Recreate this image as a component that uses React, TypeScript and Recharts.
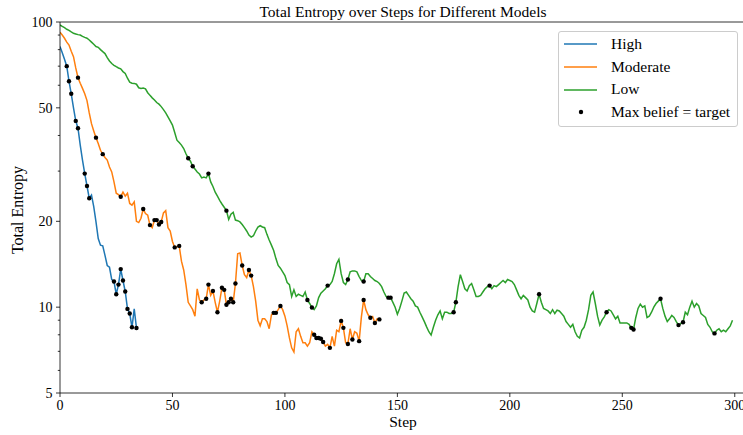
import { FC } from "react";
import {
  ComposedChart,
  Line,
  Scatter,
  XAxis,
  YAxis,
  ReferenceLine,
  Customized,
} from "recharts";

// entropy per step, index = step
const HIGH = [
  82, 78, 74, 70, 62, 56, 50, 45, 42.4, 37,
  32.8, 29.4, 26.6, 24.1, 24.7, 22.5, 19.9, 17.4, 16.5, 16.4,
  15.2, 14.0, 13.8, 12.5, 12.3, 11.1, 12.0, 13.6, 12.4, 11.35,
  9.86, 9.5, 8.5, 9.86, 8.45,
];

const MODERATE = [
  92, 90, 87.7, 85, 83, 79, 75.6, 69, 63.8, 61,
  58.5, 56, 53, 48, 44, 41.5, 39.3, 37.5, 35.5, 34.4,
  33.5, 32.8, 31, 29.8, 27.5, 25.1, 24.8, 24.4, 25.3, 24.5,
  25.1, 23.1, 22.8, 23.4, 20.0, 19.8, 20.5, 22.1, 21.3, 21.0,
  19.4, 19.0, 20.2, 20.2, 19.5, 19.9, 21.4, 21.8, 19.0, 18.5,
  17.0, 16.2, 16.3, 16.4, 14.5, 13.5, 12.0, 10.4, 10.1, 9.8,
  9.3, 11.6, 10.6, 10.4, 10.6, 10.7, 12.0, 11.0, 11.4, 10.4,
  9.6, 10.5, 11.7, 11.5, 10.2, 10.4, 10.7, 10.4, 12.1, 15.4,
  15.5, 14.0, 13.0, 12.7, 13.5, 12.9, 11.8, 10.5, 9.0, 8.6,
  9.1, 9.1, 8.9, 8.4, 9.4, 9.55, 9.55, 9.8, 10.1, 9.8,
  9.3, 8.6, 7.8, 7.2, 6.96, 8.2, 8.4, 7.9, 7.5, 7.5,
  7.3, 7.5, 8.2, 8.0, 7.8, 7.8, 7.75, 7.55, 7.3, 7.4,
  7.2, 7.9, 7.3, 8.3, 8.2, 8.95, 8.46, 7.5, 7.43, 8.4,
  7.7, 8.2, 8.1, 7.6, 9.25, 10.6, 9.8, 9.4, 9.18, 9.27,
  8.8, 9.1, 9.06,
];

const LOW = [
  97.6, 96.5, 95.5, 94.3, 93.5, 92.3, 91.3, 90.8, 90.3, 90,
  89, 88.3, 87.7, 86.5, 85, 83.5, 82, 81.5, 80, 78.7,
  77.5, 75, 73, 71.5, 70.5, 69.7, 69, 68.5, 67, 66,
  63.5, 61.5, 61, 60.9, 60.5, 58.8, 58.5, 58.7, 58.3, 56.5,
  55.3, 54.2, 53.3, 52.2, 51.5, 50.5, 49.3, 48, 46.5, 45,
  43.5, 41, 38.5, 37.8, 37, 36, 34.5, 33.3, 32.5, 31.2,
  30.5, 29.8, 29.3, 28.4, 28.6, 28.4, 29.4, 27.5, 26.5, 25.3,
  24.5, 23.7, 23, 22.4, 21.8, 20.3, 21.2, 21.5, 20.2, 20.1,
  19.9, 19.5, 19, 18.5, 17.9, 17.6, 17.8, 18.5, 19.1, 19.3,
  19.1, 19.0, 18, 17.2, 16.5, 15.8, 14.8, 14.0, 13.7, 13.3,
  12.9, 12.2, 12.0, 10.9, 11.5, 10.9, 11.1, 11.0, 10.9, 11.3,
  10.6, 10.3, 9.97, 9.8, 10.1, 10.8, 11.2, 11.4, 11.6, 11.9,
  12.0, 12.3, 13.1, 14.2, 14.7, 13.1, 12.2, 12.0, 12.5, 13.3,
  13.4, 13.4, 13.3, 12.8, 12.4, 12.3, 13.1, 13.1, 12.8, 12.6,
  12.4, 12.3, 12.1, 11.8, 11.3, 10.9, 10.8, 10.8, 10.4, 10.0,
  9.45, 9.9, 10.5, 11.2, 11.3, 11.0, 10.7, 10.5, 10.1, 10.0,
  9.6, 9.25, 8.9, 8.53, 8.2, 7.98, 8.5, 9.0, 9.4, 9.7,
  9.1, 9.6, 9.6, 9.5, 9.5, 9.6, 10.4, 11.8, 13.0, 12.3,
  11.6, 11.4, 11.9, 12.1, 11.5, 10.9, 10.9, 11.0, 11.3, 11.6,
  11.8, 11.9, 11.6, 11.9, 11.8, 12.0, 12.2, 12.4, 12.2, 12.5,
  12.4, 12.3, 12.0, 11.5, 11.0, 10.7, 11.0, 10.8, 10.6, 10.0,
  9.7, 9.6, 10.3, 11.1, 10.4, 9.9, 9.8, 9.7, 9.5, 9.8,
  9.5, 9.76, 9.7, 9.5, 9.3, 8.9, 8.7, 8.5, 8.7, 8.2,
  7.9, 7.8, 8.3, 8.5, 9.0, 9.8, 11.0, 11.3, 10.3, 9.3,
  8.65, 9.0, 9.25, 9.6, 9.8, 9.7, 9.4, 9.1, 9.3, 8.8,
  8.8, 8.8, 8.8, 8.7, 8.46, 8.35, 9.2, 9.9, 10.25, 10.0,
  10.1, 9.2, 9.3, 9.6, 10.0, 10.3, 10.5, 10.7, 9.9, 9.3,
  8.9, 9.1, 9.35, 9.2, 8.9, 8.65, 8.75, 8.85, 9.6, 9.4,
  10.0, 10.5, 10.0, 10.3, 10.1, 9.5, 9.35, 9.2, 8.7, 8.5,
  8.2, 8.09, 8.3, 8.4, 8.2, 8.3, 8.2, 8.4, 8.6, 9.0,
];

// steps where max belief == target
const HIGH_HITS = [3, 4, 5, 7, 8, 11, 12, 13, 24, 25, 26, 27, 28, 29, 30, 31, 32, 34];
const MODERATE_HITS = [
  8, 16, 19, 27, 37, 40, 42, 43, 44, 45, 51, 53, 63, 65, 66, 68, 70, 72, 73, 74,
  75, 76, 77, 78, 81, 84, 85, 95, 96, 98, 113, 114, 115, 116, 117, 120, 125, 126,
  128, 130, 133, 135, 138, 140, 142,
];
const LOW_HITS = [
  57, 59, 66, 74, 110, 112, 119, 128, 135, 146, 147, 175, 176, 191, 213, 243, 254,
  255, 267, 275, 277, 291,
];

const X_TICKS = [0, 50, 100, 150, 200, 250, 300];
const Y_TICKS = [5, 6, 7, 8, 9, 10, 20, 30, 40, 50, 60, 70, 80, 90, 100];
const Y_LABELED = [5, 10, 20, 50, 100];

const FONT = "'Liberation Serif', 'Times New Roman', serif";

const toRows = (vals: number[]) => vals.map((value, step) => ({ step, value }));

const series = [
  { name: "High", color: "#1f77b4", rows: toRows(HIGH) },
  { name: "Moderate", color: "#ff7f0e", rows: toRows(MODERATE) },
  { name: "Low", color: "#2ca02c", rows: toRows(LOW) },
];

const hits = [
  ...HIGH_HITS.map((s) => ({ step: s, value: HIGH[s] })),
  ...MODERATE_HITS.map((s) => ({ step: s, value: MODERATE[s] })),
  ...LOW_HITS.map((s) => ({ step: s, value: LOW[s] })),
];

const XTick = (props: any) => {
  const { x, y, payload } = props;
  return (
    <g>
      <line x1={x} x2={x} y1={y} y2={y + 4} stroke="#000" strokeWidth={0.8} />
      <text x={x} y={y + 17} textAnchor="middle" fontFamily={FONT} fontSize={14} fill="#000">
        {payload.value}
      </text>
    </g>
  );
};

const YTick = (props: any) => {
  const { x, y, payload } = props;
  const major = Y_LABELED.includes(payload.value);
  return (
    <g>
      <line x1={x - (major ? 4 : 2.2)} x2={x} y1={y} y2={y} stroke="#000" strokeWidth={0.8} />
      {major && (
        <text x={x - 7.5} y={y + 5} textAnchor="end" fontFamily={FONT} fontSize={14} fill="#000">
          {payload.value}
        </text>
      )}
    </g>
  );
};

const Title = () => (
  <text x={403} y={16.5} textAnchor="middle" fontFamily={FONT} fontSize={15.5} fill="#000">
    Total Entropy over Steps for Different Models
  </text>
);

const LegendBox = () => (
  <div
    style={{
      position: "absolute",
      left: 558,
      top: 31,
      width: 180,
      boxSizing: "border-box",
      border: "1px solid #cccccc",
      borderRadius: 3,
      background: "rgba(255,255,255,0.8)",
      padding: "1px 6px 2px 5px",
      fontFamily: FONT,
      fontSize: 15.5,
      lineHeight: "22.7px",
      color: "#000",
      zIndex: 2,
    }}
  >
    {series.map((s) => (
      <div key={s.name} style={{ display: "flex", alignItems: "center" }}>
        <svg width={47} height={10}>
          <line x1={0} x2={33} y1={5} y2={5} stroke={s.color} strokeWidth={1.5} />
        </svg>
        <span>{s.name}</span>
      </div>
    ))}
    <div style={{ display: "flex", alignItems: "center" }}>
      <svg width={47} height={10}>
        <circle cx={17} cy={5} r={2.2} fill="#000" />
      </svg>
      <span>Max belief = target</span>
    </div>
  </div>
);

const App: FC = () => {
  return (
    <div
      style={{
        position: "absolute",
        left: 0,
        top: 0,
        width: 743,
        height: 435,
        overflow: "hidden",
        background: "#fff",
      }}
    >
      <ComposedChart width={750} height={435} margin={{ top: 22, right: 4, left: 0, bottom: 0 }}>
        <XAxis
          dataKey="step"
          type="number"
          domain={[0, 305]}
          ticks={X_TICKS}
          allowDataOverflow
          height={42}
          tickSize={0}
          tickMargin={0}
          tickLine={false}
          tick={<XTick />}
          stroke="#000"
          strokeWidth={0.8}
          label={{ value: "Step", position: "insideBottom", offset: 8, fontFamily: FONT, fontSize: 15.5, fill: "#000" }}
        />
        <YAxis
          dataKey="value"
          type="number"
          scale="log"
          domain={[5, 100]}
          ticks={Y_TICKS}
          allowDataOverflow
          width={60}
          tickSize={0}
          tickMargin={0}
          tickLine={false}
          tick={<YTick />}
          interval={0}
          stroke="#000"
          strokeWidth={0.8}
          label={{
            content: () => (
              <text
                x={22.5}
                y={210}
                transform="rotate(-90 22.5 210)"
                textAnchor="middle"
                fontFamily={FONT}
                fontSize={16}
                fill="#000"
              >
                Total Entropy
              </text>
            ),
          }}
        />
        <ReferenceLine y={100} stroke="#000" strokeWidth={0.8} />
        {series.map((s) => (
          <Line
            key={s.name}
            data={s.rows}
            dataKey="value"
            name={s.name}
            stroke={s.color}
            strokeWidth={1.5}
            dot={false}
            activeDot={false}
            isAnimationActive={false}
          />
        ))}
        <Scatter
          data={hits}
          name="Max belief = target"
          fill="#000"
          isAnimationActive={false}
          shape={(p: any) => <circle cx={p.cx} cy={p.cy} r={2.2} fill="#000" />}
        />
        <Customized component={Title} />
      </ComposedChart>
      <LegendBox />
    </div>
  );
};

export default App;
